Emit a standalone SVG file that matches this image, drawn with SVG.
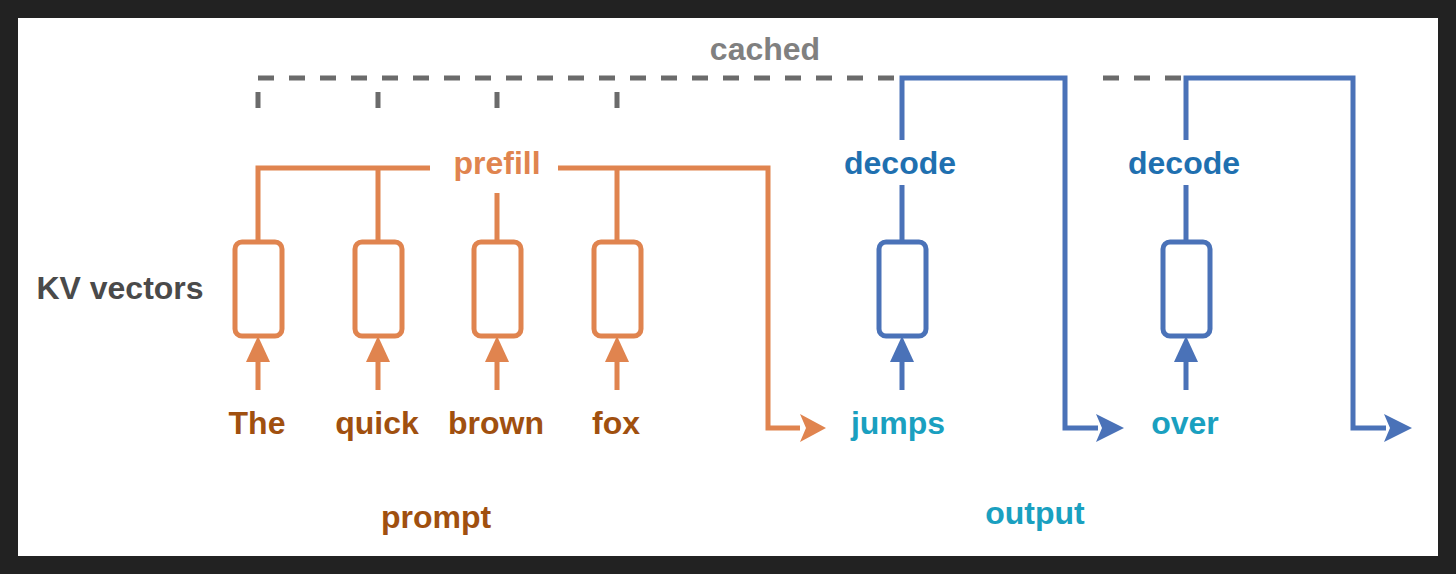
<svg xmlns="http://www.w3.org/2000/svg" width="1456" height="574" viewBox="0 0 1456 574">
<style>
text{font-family:"Liberation Sans",Arial,sans-serif;font-weight:bold;font-size:32px;text-anchor:middle}
.o{stroke:#E0844F;stroke-width:5;fill:none}
.b{stroke:#4A72B8;stroke-width:5;fill:none}
.g{stroke:#6B6B6B;stroke-width:5;fill:none}
.box{fill:#fff;stroke-width:5}
</style>
<defs>
<marker id="ao" markerWidth="10" markerHeight="10" refX="8" refY="5" orient="auto" markerUnits="userSpaceOnUse" viewBox="0 0 10 10"><path d="M0,0 L10,5 L0,10 L2,5 Z" fill="#E0844F"/></marker>
</defs>
<rect x="0" y="0" width="1456" height="574" fill="#222"/>
<rect x="18" y="18" width="1420" height="538" fill="#fff"/>
<g id="connectors">
<path class="g" stroke-dasharray="16,15" d="M258,78 H905 M1103,78 H1185"/>
<path class="g" d="M258,92 V108 M378,92 V108 M497,92 V108 M617,92 V108"/>
<path class="o" d="M258,242 V168 H430 M558,168 H768 V428 H800 M378,168 V242 M497,193 V242 M617,168 V242"/>
<path d="M800,414 L826,428 L800,442 L806,428 Z" fill="#E0844F"/>
<g class="o"><path d="M258,390 V350 M378,390 V350 M497,390 V350 M617,390 V350"/></g>
<g fill="#E0844F"><path d="M258,336 L270,362 L246,362 Z"/><path d="M378,336 L390,362 L366,362 Z"/><path d="M497,336 L509,362 L485,362 Z"/><path d="M617,336 L629,362 L605,362 Z"/></g>
<path class="b" d="M902,140 V78 H1065 V428 H1098 M902,185 V242 M1186,140 V78 H1353 V428 H1386 M1186,185 V242 M902,390 V350 M1186,390 V350"/>
<g fill="#4A72B8"><path d="M1096,414 L1124,428 L1096,442 L1102,428 Z"/><path d="M1384,414 L1412,428 L1384,442 L1390,428 Z"/><path d="M902,336 L914,362 L890,362 Z"/><path d="M1186,336 L1198,362 L1174,362 Z"/></g>
</g>
<g id="n1"><rect class="o box" x="235" y="242" width="47" height="94" rx="7"/></g>
<g id="n2"><rect class="o box" x="355" y="242" width="47" height="94" rx="7"/></g>
<g id="n3"><rect class="o box" x="474" y="242" width="47" height="94" rx="7"/></g>
<g id="n4"><rect class="o box" x="594" y="242" width="47" height="94" rx="7"/></g>
<g id="n5"><rect class="b box" x="879" y="242" width="47" height="94" rx="7"/></g>
<g id="n6"><rect class="b box" x="1163" y="242" width="47" height="94" rx="7"/></g>
<g id="labels">
<text x="765" y="60" fill="#808080">cached</text>
<text x="497" y="174" fill="#E0844F">prefill</text>
<text x="900" y="174" fill="#1F70B0">decode</text>
<text x="1184" y="174" fill="#1F70B0">decode</text>
<text x="120" y="299" fill="#4A4A4A">KV vectors</text>
<g fill="#A0500F"><text x="257" y="434">The</text><text x="377" y="434">quick</text><text x="496" y="434">brown</text><text x="616" y="434">fox</text><text x="436" y="528">prompt</text></g>
<g fill="#1AA0C0"><text x="898" y="434">jumps</text><text x="1185" y="434">over</text><text x="1035" y="524">output</text></g>
</g>
</svg>
